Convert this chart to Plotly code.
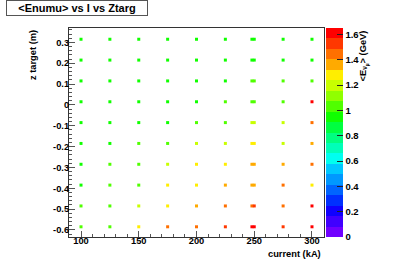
import plotly.graph_objects as go

# ---------------- data ----------------
current_kA = [100, 125, 150, 175, 200, 225, 248, 250, 275, 300]
z_target_m = [0.315, 0.215, 0.115, 0.015, -0.085, -0.185, -0.285, -0.385, -0.485, -0.585]

# mean neutrino energy (GeV); one row per z target (top to bottom), one column per current
row_z_p03 = [0.92, 0.92, 0.92, 0.92, 0.92, 0.92, 0.92, 0.92, 0.92, 0.92]
row_z_p02 = [0.92, 0.92, 0.92, 0.92, 0.92, 0.92, 0.92, 0.92, 0.92, 0.92]
row_z_p01 = [0.92, 0.92, 0.92, 0.92, 0.92, 0.94, 1.00, 1.00, 1.04, 1.04]
row_z_p00 = [0.92, 0.92, 0.92, 0.93, 0.94, 1.00, 1.06, 1.06, 1.06, 1.60]
row_z_m01 = [0.93, 0.93, 0.94, 0.96, 1.00, 1.06, 1.16, 1.16, 1.20, 1.42]
row_z_m02 = [0.94, 0.96, 1.00, 1.06, 1.16, 1.16, 1.26, 1.26, 1.22, 1.36]
row_z_m03 = [0.95, 1.00, 1.06, 1.16, 1.26, 1.26, 1.36, 1.36, 1.34, 1.42]
row_z_m04 = [0.96, 1.00, 1.06, 1.26, 1.26, 1.36, 1.38, 1.38, 1.42, 1.26]
row_z_m05 = [1.00, 1.06, 1.16, 1.26, 1.36, 1.44, 1.42, 1.55, 1.42, 1.60]
row_z_m06 = [1.06, 1.06, 1.26, 1.42, 1.42, 1.50, 1.60, 1.60, 1.50, 1.60]
enumu_rows = [row_z_p03, row_z_p02, row_z_p01, row_z_p00, row_z_m01,
              row_z_m02, row_z_m03, row_z_m04, row_z_m05, row_z_m06]

y_ticks = [0.3, 0.2, 0.1, 0, -0.1, -0.2, -0.3, -0.4, -0.5, -0.6]
y_tick_text = ["0.3", "0.2", "0.1", "0", "-0.1", "-0.2", "-0.3", "-0.4", "-0.5", "-0.6"]
cbar_ticks = [0, 0.2, 0.4, 0.6, 0.8, 1.0, 1.2, 1.4, 1.6]
cbar_tick_text = ["0", "0.2", "0.4", "0.6", "0.8", "1", "1.2", "1.4", "1.6"]

# ROOT-like rainbow palette, 20 contour levels (bottom -> top)
palette = ["#7000ff", "#4000ff", "#1000ff", "#0030ff", "#0065ff", "#0098ff",
           "#00c8ff", "#00fff0", "#00ffb8", "#00ff80", "#00ff40", "#10ff00",
           "#50ff00", "#90ff00", "#c8ff00", "#ffee00", "#ffaa00", "#ff7000",
           "#ff3800", "#ff0000"]

# ---------------- build ----------------
xs, ys, cs = [], [], []
for z, row in zip(z_target_m, enumu_rows):
    for x, v in zip(current_kA, row):
        xs.append(x)
        ys.append(z)
        cs.append(v)

n = len(palette)
colorscale = []
for i, c in enumerate(palette):
    colorscale.append([i / n, c])
    colorscale.append([(i + 1) / n, c])

FONT = "Liberation Sans, Arial, Helvetica, sans-serif"
L, R, T, B = 69, 70, 28, 30
W, H = 394, 267
pw, ph = W - L - R, H - T - B

fig = go.Figure()
fig.add_trace(go.Scatter(
    x=xs, y=ys, mode="markers",
    marker=dict(
        symbol="square", size=3, line=dict(width=0),
        color=cs, cmin=0, cmax=1.65, colorscale=colorscale, showscale=True,
        colorbar=dict(
            x=(326 - L) / pw, xanchor="left", xpad=0,
            y=0.5, yanchor="middle", ypad=0, len=1, lenmode="fraction",
            thickness=17, outlinewidth=0,
            ticks="inside", ticklen=6, tickcolor="#222", tickwidth=1,
            tickvals=cbar_ticks, ticktext=cbar_tick_text,
            tickfont=dict(family=FONT, size=9.5, color="black", weight="bold"),
        ),
    ),
    hoverinfo="skip", showlegend=False,
))

axis_common = dict(
    showgrid=False, zeroline=False, showline=True, linecolor="#333", linewidth=1,
    mirror=True, ticks="inside", tickcolor="#555", tickwidth=1, ticklen=6,
    tickfont=dict(family=FONT, size=9.3, color="black", weight="bold"),
)

fig.update_layout(
    width=W, height=H,
    margin=dict(l=L, r=R, t=T, b=B, pad=0),
    paper_bgcolor="white", plot_bgcolor="white",
    font=dict(family=FONT, color="black"),
    xaxis=dict(range=[89.6, 310.4], tickvals=[100, 150, 200, 250, 300],
               ticklabelstandoff=-5,
               minor=dict(ticks="inside", ticklen=3, dtick=10, tick0=0, tickcolor="#555"),
               **axis_common),
    yaxis=dict(range=[-0.634, 0.369], tickvals=y_ticks, ticktext=y_tick_text,
               ticklabelstandoff=-3,
               minor=dict(ticks="inside", ticklen=3, dtick=0.02, tick0=0, tickcolor="#555"),
               **axis_common),
    annotations=[
        dict(text="&lt;Enumu&gt; vs I vs Ztarg", xref="paper", yref="paper",
             x=(6 - L) / pw, y=(H - B - 8) / ph, xanchor="left", yanchor="middle",
             showarrow=False, font=dict(family=FONT, size=11, color="black", weight="bold"),
             bordercolor="#555", borderwidth=1, borderpad=1, bgcolor="white",
             width=138, height=12, align="center"),
        dict(text="current (kA)", xref="paper", yref="paper",
             x=(323 - L) / pw, y=(H - B - 254) / ph, xanchor="right", yanchor="middle",
             showarrow=False, font=dict(family=FONT, size=9.3, color="black", weight="bold")),
        dict(text="z target (m)", xref="paper", yref="paper", textangle=-90,
             x=(33 - L) / pw, y=1.0, xanchor="center", yanchor="top",
             showarrow=False, font=dict(family=FONT, size=9.3, color="black", weight="bold")),
        dict(text="&lt;E<sub>ν<sub>μ</sub></sub>&gt; (GeV)", xref="paper", yref="paper", textangle=-90,
             x=(363 - L) / pw, y=(H - B - 29) / ph, xanchor="center", yanchor="top",
             showarrow=False, font=dict(family=FONT, size=9.3, color="black", weight="bold")),
    ],
)

fig.write_html("out.html", config={"displayModeBar": False},
               post_script="document.body.style.margin='0';document.body.style.padding='0';")
